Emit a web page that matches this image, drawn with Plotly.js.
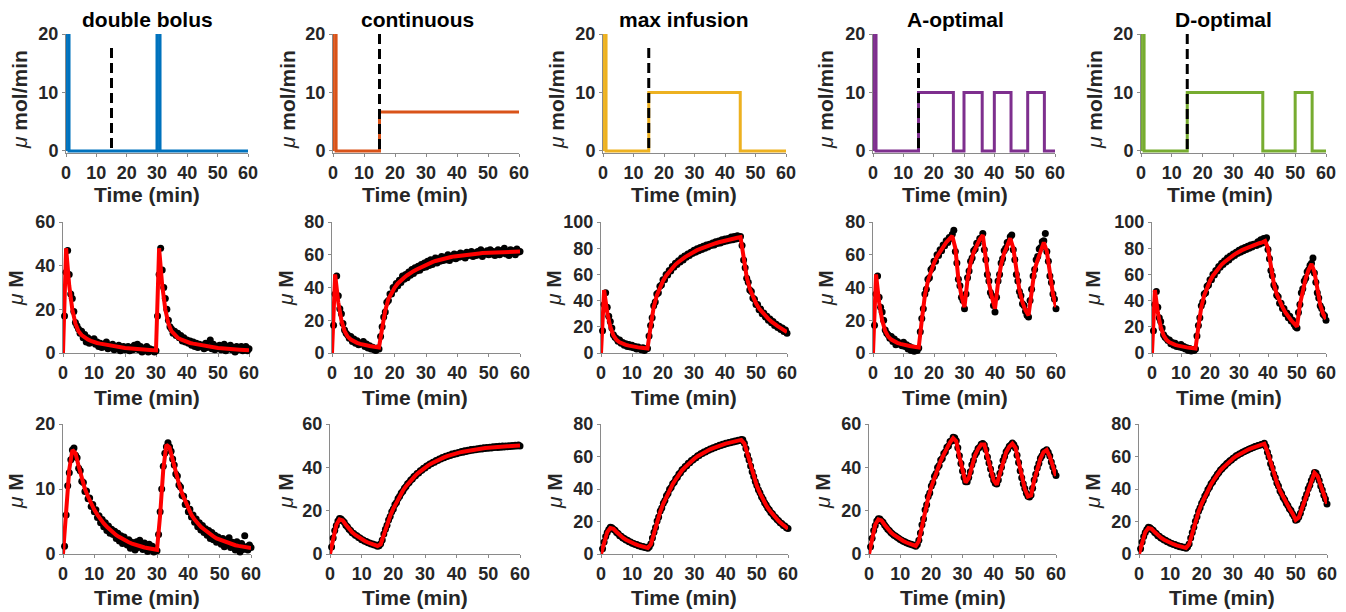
<!DOCTYPE html>
<html><head><meta charset="utf-8">
<script src="https://cdn.plot.ly/plotly-3.0.1.min.js"></script>
<style>html,body{margin:0;padding:0;background:#fff}#chart{width:1346px;height:612px}</style>
</head><body><div id="chart"></div>
<script>
// ---------- DATA ----------
const panelTitles = ['double bolus', 'continuous', 'max infusion', 'A-optimal', 'D-optimal'];
const seriesColors = ['#0072BD', '#D95319', '#EDB120', '#7E2F8E', '#77AC30'];
const xTicks = [0, 10, 20, 30, 40, 50, 60];

// Row 1: infusion schedules (µmol/min); the 1-min boluses are off-scale (clipped at 20)
const rateT_double = [0, 0, 1, 30, 31, 60];
const rate_double  = [0, 40, 0, 40, 0, 0];
const rateT_cont = [0, 0, 1, 15, 60];
const rate_cont  = [0, 40, 0, 6.67, 6.67];
const rateT_max = [0, 0, 1, 15, 45, 60];
const rate_max  = [0, 40, 0, 10, 0, 0];
const rateT_A = [0, 0, 1, 15, 26.5, 30, 36, 40, 45.5, 51, 56.5, 60];
const rate_A  = [0, 40, 0, 10, 0, 10, 0, 10, 0, 10, 0, 0];
const rateT_D = [0, 0, 1, 15, 39.5, 50, 55.5, 60];
const rate_D  = [0, 40, 0, 10, 0, 10, 0, 0];
const switchTime = [15, 15, 15, 15, 15];
const switchTop = [17.6, 20, 17.6, 17.6, 20];

// time grids
const tFit = [0,1,2,3,4,5,6,7,8,9,10,11,12,13,14,15,16,17,18,19,20,21,22,23,24,25,26,27,28,29,30,
  31,32,33,34,35,36,37,38,39,40,41,42,43,44,45,46,47,48,49,50,51,52,53,54,55,56,57,58,59,60];
const tObs = [0.5,1,1.5,2,2.5,3,3.5,4,4.5,5,
  5.5,6,6.5,7,7.5,8,8.5,9,9.5,10,
  10.5,11,11.5,12,12.5,13,13.5,14,14.5,15,
  15.5,16,16.5,17,17.5,18,18.5,19,19.5,20,
  20.5,21,21.5,22,22.5,23,23.5,24,24.5,25,
  25.5,26,26.5,27,27.5,28,28.5,29,29.5,30,
  30.5,31,31.5,32,32.5,33,33.5,34,34.5,35,
  35.5,36,36.5,37,37.5,38,38.5,39,39.5,40,
  40.5,41,41.5,42,42.5,43,43.5,44,44.5,45,
  45.5,46,46.5,47,47.5,48,48.5,49,49.5,50,
  50.5,51,51.5,52,52.5,53,53.5,54,54.5,55,
  55.5,56,56.5,57,57.5,58,58.5,59,59.5,60];

// Row 2: measured (dots, tObs) and fitted (red, tFit) µM
const obs2_double = [17,37,47,36,27,25,19,14,12.5,11,
  9,10,7,8.5,5,7,4.5,6,5,6.5,
  4,5,3,4.5,2.5,4,3,5,2,3.5,
  2.5,4,1.5,3,2,3.5,1,2.5,3,1.5,
  2.5,3,1,2.5,1.5,3.5,2,4,1.5,3,
  0.5,2,1.5,3,0.5,2,1,1.5,0.5,1,
  17,36,48,38,30,25,20,15,12,11,
  9,10,8,9,7,8,5.5,7,5,6,
  4.5,5.5,3.5,5,3,4.5,2.5,4,3,3.5,
  2,4.5,2.5,3,6,2,4,1.5,3,2.5,
  3.5,1.5,2.5,4,1,3,2,3.5,1.5,2.5,
  0.5,3,1.5,2,3,1,2.5,3,1,2];
const fit2_double = [0,48,31,20,13.5,10,8.2,7,6.2,5.6,
  5.0,4.6,4.3,4.0,3.7,3.4,3.1,2.9,2.7,2.5,
  2.3,2.2,2.0,1.9,1.8,1.7,1.6,1.5,1.4,1.3,
  1.2,48,31,20,13.5,10,8.2,7,6.2,5.6,
  5.0,4.6,4.3,4.0,3.7,3.4,3.1,2.9,2.7,2.5,
  2.3,2.2,2.0,1.9,1.8,1.7,1.6,1.5,1.4,1.3,1.2];

const obs2_cont = [17,36,47,35,27,24,18,14,12,11,
  9,10,7,8.5,6,7.5,5,6,5.5,7,
  4,5.5,3,4.5,2.5,3.5,2,1.5,3,2.5,
  10,16,22,25,31,32,36,36,40,39,
  42.5,41,44.5,43,47,45,48,46,49.5,47.5,
  51,48.5,52,50,53,50.5,54,52,55,52.5,
  56,53.5,57,54,56.5,58,55,57.5,56,59,
  56.5,58.5,57,60,56.5,59,58,60.5,57.5,60,
  58.5,61,59,60.5,58,61.5,59.5,60,62,59,
  61,59.5,62,60,63,59,61.5,60.5,62.5,60,
  63,60.5,62,59.5,61.5,63,60,62.5,61,64,
  60.5,62,59.5,63,61,62.5,60,63.5,61.5,62];
const fit2_cont = [0,48,31,20,13.5,10,8.2,7,6.2,5.6,
  5.0,4.6,4.3,4.0,3.7,3.4,15,26,33,37,
  40,42.5,44.5,46,47.5,49,50,51,52,53,
  54,54.8,55.5,56.2,56.8,57.3,57.8,58.2,58.6,59,
  59.3,59.6,59.9,60.1,60.3,60.5,60.7,60.8,61,61.1,
  61.2,61.3,61.4,61.5,61.6,61.6,61.7,61.8,61.8,61.9,62];

const obs2_max = [17,37,46,35,28,24,19,14,12,11,
  9,10,7.5,8,6,7,5,6.5,4.5,6,
  4,5,3,4.5,3.5,2.5,4,2,3,3.5,
  13,21,27,36,39,45,46,51,52,56,
  56,60,59.5,63,62.5,66,65.5,68.5,67.5,70.5,
  69.5,72.5,71,74,73,75.5,74.5,77,76,78.5,
  77,79.5,78,80.5,79,81.5,80,82.5,81,83,
  82,84,82.5,85,83.5,85.5,84,86.5,85,87,
  85.5,87.5,86,88.5,86.5,89,87,89.5,87.5,89,
  82,71,65,57,54,48,47,42,41,37,
  37,33,33.5,30,30.5,27.5,28,25,26,23,
  24,21,22,19.5,20.5,18,19,16.5,17.5,15];
const fit2_max = [0,48,31,20,13.5,10,8.2,7,6.2,5.6,
  5.0,4.6,4.3,4.0,3.7,3.4,20,35,44,50,
  55,59,62,65,67.5,69.5,71.5,73,74.5,76,
  77.5,78.5,79.5,80.5,81.5,82.3,83,83.8,84.5,85.2,
  85.8,86.4,87,87.5,88,88.5,72,58,49,43,
  38,34,31,28.5,26,24,22,20.5,19,17.5,16];

const obs2_A = [17,36,47,34,28,25,20,14,12,11,
  9,10,7,8.5,5,7,5.5,6,4.5,6.5,
  4,5,2.5,4,1.5,3,1,2,1.5,3,
  13,21,27,36,39,45,46,51,52,56,
  56,60,59.5,63,62.5,66,65.5,68.5,67.5,70.5,
  70,72.5,75,62,55,45,41,34,32,27,
  36,46,50,56,58,62.5,63.5,67,67,70,
  70,73,63,57,48,44,37,35,29,25,
  34,44,48,55,57.5,62.5,64,67.5,68,71,
  72,63,57,48,44,37.5,35,30,29,25.5,
  23,22,32,39,47,51,57,59,63.5,64.5,
  68,68.5,73,62,56,47,43,36,33,27];
const fit2_A = [0,48,31,20,13.5,10,8.2,7,6.2,5.6,
  5.0,4.6,4.3,4.0,3.7,3.4,20,35,44,50,
  55,59,62,65,67.5,69.5,71.5,64,45,35,
  28,45,55,61.5,66,69.5,72,57,43,34,
  27,43,54,61,66,70,64,49,38.5,31,
  26,23,39,51,57,63,67.5,62,47,36,28];

const obs2_D = [17,37,47,35,27,24,19,14,12,11,
  9.5,10,7,8,6,7.5,5,6,4.5,6.5,
  4,5,3,4,2,3.5,1.5,2.5,2,3,
  13,21,27,36,39,45,46,51,52,56,
  56,60,59.5,63,62.5,66,65.5,68.5,67.5,70.5,
  69.5,72.5,71,74,73,75.5,74.5,77,76,78.5,
  77,79.5,78,80.5,79,81.5,80,82.5,81,83,
  83,82,85,83,86.5,84,87.5,86,88,79,
  72,63,59,52,50,44,43,38,38,34,
  34,30,30.5,27,28,24.5,25,22,20,19,
  31,37,46,49,55,57,62,63.5,67,68.5,
  72.5,61,54,46,42,36,34,29.5,28.5,25];
const fit2_D = [0,48,31,20,13.5,10,8.2,7,6.2,5.6,
  5.0,4.6,4.3,4.0,3.7,3.4,20,35,44,50,
  55,59,62,65,67.5,69.5,71.5,73,74.5,76,
  77.5,78.5,79.5,80.5,81.5,82.3,83,83.8,84.5,85.5,
  80,64,53,45,39,35,31,27.5,25,22.5,
  20,37,49,57,63.5,68,62,47,37,30,26];

// Row 3: measured (dots, tObs) and fitted (red, tFit) µM
const obs3_double = [1.2,6,10.5,12.5,14.5,16,16.3,15.2,14.8,13.2,
  12.8,11.2,11,9.6,9.7,8.5,8.6,7.3,7.6,6.5,
  6.8,5.6,5.9,4.8,5.3,4.2,4.8,3.6,4.3,3.2,
  3.8,3,3.5,2.4,3.2,2,2.8,1.6,2.6,1.9,
  1.4,2.2,0.9,1.8,1.2,0.6,1.9,1.0,2.1,1.3,
  0.7,1.7,0.9,0.4,1.5,0.6,1.2,0.3,0.9,0.5,
  3,6.5,10,13.5,15.5,16.5,17.1,16.5,15.8,14.6,
  13.7,12.3,12,10.6,10.3,9,8.9,7.6,7.8,6.5,
  6.9,5.7,6,4.9,5.4,4.2,4.8,3.7,4.4,3.3,
  3.9,2.9,3.6,2.4,3.3,2.2,2.9,1.8,2.6,2.2,
  1.5,2.4,1.1,2.0,1.4,2.5,1.0,1.8,1.3,0.6,
  1.9,0.9,0.3,1.6,0.7,2.8,1.1,0.6,1.4,1.0];
const fit3_double = [0,7,13,16,15.5,13.5,11.5,10,8.8,7.7,
  6.8,6.0,5.3,4.7,4.2,3.7,3.3,2.9,2.6,2.3,
  2.0,1.8,1.6,1.4,1.3,1.15,1.0,0.9,0.8,0.7,
  0.65,6,13,16.8,16.4,14.5,12.5,10.8,9.3,8.1,
  6.8,6.0,5.3,4.7,4.2,3.8,3.4,3.0,2.7,2.4,
  2.2,2.0,1.8,1.6,1.5,1.35,1.25,1.15,1.05,1.0,0.9];

const obs3_cont = [3.2,7.4,10.8,13.2,15.2,16.4,16.1,15.3,14.7,13.3,
  12.6,11.4,10.9,9.8,9.5,8.6,8.4,7.6,7.4,6.6,
  6.5,5.9,5.8,5.2,5.1,4.6,4.6,4.1,4.1,3.6,
  3.8,4.7,6.5,9.2,11.4,13.3,15.7,17.3,19.5,20.8,
  22.8,23.8,25.6,26.6,28.2,29,30.4,31.1,32.4,33,
  34.2,34.6,35.8,36.1,37.2,37.4,38.4,38.6,39.6,39.7,
  40.6,40.7,41.5,41.6,42.4,42.4,43.1,43.1,43.8,43.8,
  44.5,44.4,45.1,45,45.6,45.5,46.1,45.9,46.5,46.3,
  46.9,46.7,47.3,47,47.6,47.3,47.9,47.6,48.2,47.9,
  48.4,48.1,48.6,48.3,48.8,48.5,49,48.7,49.2,48.8,
  49.3,48.9,49.5,49.1,49.6,49.2,49.7,49.3,49.8,49.4,
  49.9,49.5,50,49.6,50.1,49.7,50.2,49.8,50.3,49.9];
const fit3_cont = [0,7,13.5,16,15.5,13.5,11.5,10,8.8,7.7,
  6.8,6.0,5.3,4.7,4.2,3.7,4.5,9,13.5,17.5,
  21,24,26.8,29.2,31.3,33.2,34.8,36.3,37.6,38.8,
  39.9,40.9,41.8,42.6,43.3,44,44.6,45.2,45.7,46.1,
  46.5,46.9,47.2,47.5,47.8,48.1,48.3,48.5,48.7,48.9,
  49.0,49.2,49.3,49.4,49.5,49.6,49.7,49.8,49.9,50,50.1];

const obs3_max = [3.3,7.4,10.7,13.3,15.1,16.4,16.1,15.3,14.6,13.3,
  12.6,11.3,10.9,9.8,9.5,8.6,8.4,7.6,7.4,6.6,
  6.5,5.8,5.8,5.1,5.1,4.5,4.6,4,4.1,3.5,
  4.5,6.3,9.8,13.4,16.3,20.3,22.8,26.4,28.3,31.3,
  33,35.8,37.2,39.8,41,43.3,44.2,46.3,47.3,49.2,
  50,51.8,52.3,53.8,54.3,55.8,56.2,57.5,57.8,59,
  59.3,60.5,60.6,61.7,61.8,62.7,62.8,63.7,63.8,64.6,
  64.6,65.4,65.4,66.2,66.2,66.9,66.8,67.5,67.4,68.1,
  68,68.6,68.5,69.1,68.9,69.6,69.4,70,69.8,70.4,
  70.3,68.2,65,60.8,57.8,54.2,50.6,47.7,44.6,42.2,
  39.6,37.7,35.3,33.7,31.6,30.2,28.3,27.2,25.6,24.7,
  23.2,22.5,21.2,20.5,19.3,18.8,17.6,17.2,16.1,15.7];
const fit3_max = [0,7,13.5,16,15.5,13.5,11.5,10,8.8,7.7,
  6.8,6.0,5.3,4.7,4.2,3.7,6,13,20,26,
  31,35.5,39.5,43,46,49,51.5,53.5,55.5,57.2,
  58.8,60.2,61.4,62.5,63.5,64.4,65.2,66,66.7,67.3,
  67.9,68.4,68.9,69.4,69.8,70.2,68,61,54,47.5,
  42,37.5,33.5,30,27,24.5,22.3,20.3,18.6,17,15.5];

const obs3_A = [3.4,7.3,10.8,13.2,15.2,16.3,16.2,15.2,14.7,13.4,
  12.5,11.4,10.8,9.9,9.4,8.7,8.3,7.7,7.3,6.7,
  6.4,5.9,5.7,5.2,5,4.6,4.5,4.1,4,3.6,
  4.4,6.4,9.7,13.5,16.2,20.4,22.7,26.5,28.2,31.4,
  32.9,35.9,37.1,39.9,40.9,43.4,44.1,46.4,47.2,49.3,
  49.9,51.9,52.2,53.9,53.6,52.3,49,45.3,41.8,38.3,
  35.3,33.3,33.4,35.3,38,41.2,43.1,45.7,46.8,48.7,
  49.3,50.7,51,50.3,48.2,44.8,42,39.2,36.3,34.2,
  32.6,32.3,34.2,37.3,40,43.2,45,47.2,48.2,49.7,
  50.3,51.2,50.4,48.9,45.6,42.2,38.4,35.2,32.4,30.2,
  28,26.7,26.3,27.2,30.4,34.2,36.8,39.7,41.8,44.2,
  45.4,47.2,47.5,48.1,47,45.2,42.5,40.2,37.8,36.2];
const fit3_A = [0,7,13.5,16,15.5,13.5,11.5,10,8.8,7.7,
  6.8,6.0,5.3,4.7,4.2,3.7,6,13,20,26,
  31,35.5,39.5,43,46,49,51.5,53.5,52,45,
  38,33,35,41,45.5,48.5,50.5,50.5,45,39,
  34,32,37,43,47,49.5,51,49,42,35,
  30,26.5,27,34,39.5,44,47,48,45,40,36];

const obs3_D = [3.3,7.4,10.7,13.3,15.1,16.4,16.1,15.3,14.6,13.3,
  12.6,11.3,10.9,9.8,9.5,8.6,8.4,7.6,7.4,6.6,
  6.5,5.8,5.8,5.1,5.1,4.5,4.6,4,4.1,3.5,
  4.4,6.2,9.8,13.3,16.4,20.2,22.9,26.3,28.4,31.2,
  33.1,35.7,37.3,39.7,41.1,43.2,44.3,46.2,47.4,49.1,
  50.1,51.7,52.4,53.7,54.4,55.7,56.3,57.4,57.9,58.9,
  59.4,60.4,60.7,61.6,61.9,62.6,62.9,63.6,63.9,64.5,
  64.7,65.3,65.5,66.1,66.3,66.8,66.9,67.4,67.6,68.2,
  66.2,62.6,59.7,55.6,52.9,49.2,47,43.7,41.8,38.7,
  37.2,34.8,33.4,31.2,29.9,27.8,26.7,24.8,23.3,20.8,
  21.3,22.8,25.1,28.2,30.8,34.2,36.8,40.2,42.3,45.2,
  47.4,50.2,49.9,47.7,45.3,41.8,39.4,36.2,33.8,30.8];
const fit3_D = [0,7,13.5,16,15.5,13.5,11.5,10,8.8,7.7,
  6.8,6.0,5.3,4.7,4.2,3.7,6,13,20,26,
  31,35.5,39.5,43,46,49,51.5,53.5,55.5,57.2,
  58.8,60.2,61.4,62.5,63.5,64.4,65.2,66,66.7,67.3,
  67.9,63,56,49.5,44,39,35,31.5,28,25,
  21,22.5,28,34,40,45,50,48,42,36.5,31];

// ---------- LAYOUT / DRAWING ----------
const W = 1346, H = 612;
const FONT = 'Liberation Sans, Arial, Helvetica, sans-serif';
const axisColor = '#8a8a8a';
const textColor = '#262626';

const rateT = [rateT_double, rateT_cont, rateT_max, rateT_A, rateT_D];
const rateV = [rate_double, rate_cont, rate_max, rate_A, rate_D];
const obsRow2 = [obs2_double, obs2_cont, obs2_max, obs2_A, obs2_D];
const fitRow2 = [fit2_double, fit2_cont, fit2_max, fit2_A, fit2_D];
const obsRow3 = [obs3_double, obs3_cont, obs3_max, obs3_A, obs3_D];
const fitRow3 = [fit3_double, fit3_cont, fit3_max, fit3_A, fit3_D];

const yMax = [[20,20,20,20,20],[60,80,100,80,100],[20,60,80,60,80]];
const yDtick = [[10,10,10,10,10],[20,20,20,20,20],[10,20,20,20,20]];
const rowPxY = [[34,153],[222,353],[424,554]];
const colPxX = [
  [[66,248],[333,519],[603,786],[873,1055],[1141,1326]],
  [[63,249],[332,520],[601,787],[873,1056],[1152,1326]],
  [[63,251],[330,520],[601,788],[869,1056],[1139,1327]]
];
const titlePxX = [147, 417, 684, 955, 1223];
const xTitlePxX = [[147,415,684,955,1220],[147,415,684,955,1229],[147,415,684,953,1222]];
const xTitlePxY = [194, 397, 597];
const yTitlePxX = [[20,288,557,826,1095],[15,285,553,825,1092],[15,285,554,822,1092]];
const yTitlePxY = [100, 288, 491];

const traces = [];
const layout = {
  width: W, height: H, margin: {l:0, r:0, t:0, b:0},
  paper_bgcolor: '#fff', plot_bgcolor: '#fff', showlegend: false,
  font: {family: FONT, color: textColor},
  annotations: []
};
const tickFont = {family: FONT, size: 18, color: textColor, weight: 'bold'};

for (let r = 0; r < 3; r++) {
  for (let c = 0; c < 5; c++) {
    const k = r * 5 + c + 1;
    const xa = k === 1 ? 'x' : 'x' + k;
    const ya = k === 1 ? 'y' : 'y' + k;
    const [x0, x1] = colPxX[r][c];
    const [y0, y1] = rowPxY[r];
    layout['xaxis' + (k === 1 ? '' : k)] = {
      domain: [x0 / W, x1 / W], anchor: ya, range: [0, 60],
      tickmode: 'array', tickvals: xTicks, ticktext: xTicks.map(String),
      ticks: 'outside', ticklen: 3, tickcolor: axisColor, tickwidth: 1,
      showline: true, linecolor: axisColor, linewidth: 1,
      showgrid: false, zeroline: false, fixedrange: true, layer: 'below traces',
      tickfont: tickFont
    };
    const ymin = r === 0 ? -0.35 : 0;
    layout['yaxis' + (k === 1 ? '' : k)] = {
      domain: [1 - y1 / H, 1 - y0 / H], anchor: xa, range: [ymin, yMax[r][c]],
      tick0: 0, dtick: yDtick[r][c],
      ticks: 'outside', ticklen: 3, tickcolor: axisColor, tickwidth: 1,
      showline: true, linecolor: axisColor, linewidth: 1,
      showgrid: false, zeroline: false, fixedrange: true, layer: 'below traces',
      tickfont: tickFont
    };

    if (r === 0) {
      traces.push({x: rateT[c], y: rateV[c], xaxis: xa, yaxis: ya, type: 'scatter', mode: 'lines',
        line: {shape: 'hv', color: seriesColors[c], width: 3}, hoverinfo: 'skip'});
      traces.push({x: [switchTime[c], switchTime[c]], y: [switchTop[c], 0], xaxis: xa, yaxis: ya,
        type: 'scatter', mode: 'lines', line: {color: '#000', width: 3, dash: '10px,5px'}, hoverinfo: 'skip'});
    } else {
      const obs = r === 1 ? obsRow2[c] : obsRow3[c];
      const fit = r === 1 ? fitRow2[c] : fitRow3[c];
      traces.push({x: tObs, y: obs, xaxis: xa, yaxis: ya, type: 'scatter', mode: 'markers',
        marker: {color: '#000', size: 7}, cliponaxis: false, hoverinfo: 'skip'});
      traces.push({x: tFit, y: fit, xaxis: xa, yaxis: ya, type: 'scatter', mode: 'lines',
        line: {color: '#ff0000', width: 4}, hoverinfo: 'skip'});
    }

    layout.annotations.push({xref: 'paper', yref: 'paper', x: xTitlePxX[r][c] / W, y: 1 - xTitlePxY[r] / H,
      xanchor: 'center', yanchor: 'middle', showarrow: false, text: 'Time (min)',
      font: {family: FONT, size: 21, color: textColor, weight: 'bold'}});
    const yText = r === 0
      ? '<span style="font-style:italic;font-weight:normal">μ</span> mol/min'
      : '<span style="font-style:italic;font-weight:normal">μ</span> M';
    layout.annotations.push({xref: 'paper', yref: 'paper', x: yTitlePxX[r][c] / W, y: 1 - yTitlePxY[r] / H,
      xanchor: 'center', yanchor: 'middle', showarrow: false, textangle: -90, text: yText,
      font: {family: FONT, size: 21, color: textColor, weight: 'bold'}});
  }
}
for (let c = 0; c < 5; c++) {
  layout.annotations.push({xref: 'paper', yref: 'paper', x: titlePxX[c] / W, y: 1 - 19 / H,
    xanchor: 'center', yanchor: 'middle', showarrow: false, text: panelTitles[c],
    font: {family: FONT, size: 21, color: '#000', weight: 'bold'}});
}

Plotly.newPlot('chart', traces, layout, {displayModeBar: false, staticPlot: true});
</script>
</body></html>
